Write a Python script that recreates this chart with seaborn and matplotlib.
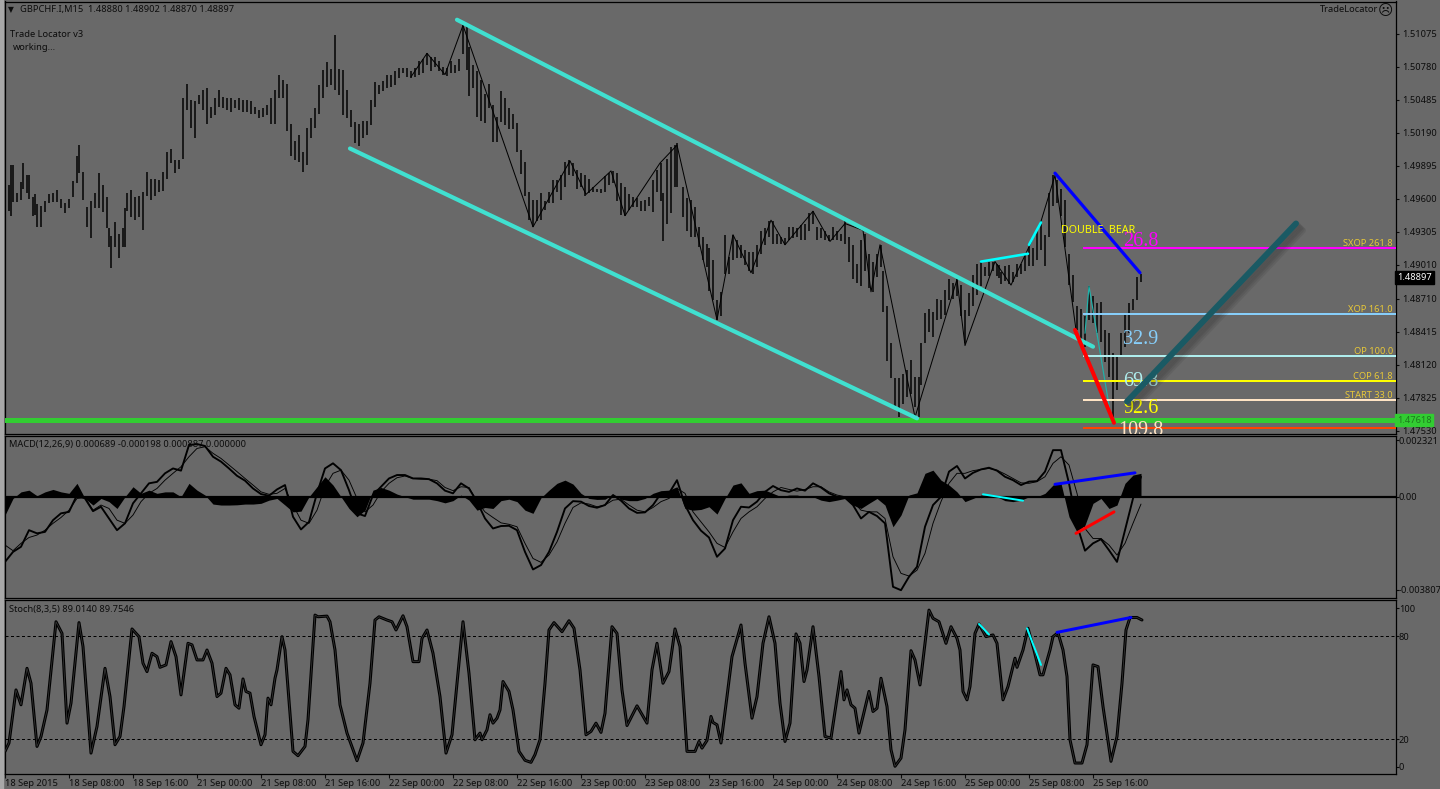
# -*- coding: utf-8 -*-
import matplotlib
matplotlib.use('Agg')
import matplotlib.pyplot as plt
from matplotlib.patches import Rectangle
import matplotlib.patheffects as pe
import seaborn as sns

# ── Price bars (bar number, high, low) ───────────────────────────────────────
BAR_X = [0, 2, 3, 4, 6, 8, 9, 11, 12, 14, 15, 16, 18, 20, 22, 24, 26, 28, 30, 32, 34, 36, 37, 39, 41, 43, 45, 47, 49, 51,
         52, 53, 55, 57, 59, 60, 61, 63, 65, 67, 69, 71, 73, 75, 77, 79, 81, 83, 85, 87, 89, 91, 93, 95, 97, 99, 101,
         103, 105, 107, 109, 111, 113, 115, 117, 119, 121, 123, 125, 127, 129, 131, 133, 135, 137, 139, 141, 143, 145,
         147, 149, 151, 153, 155, 157, 159, 161, 163, 165, 167, 169, 171, 173, 175, 177,
         179, 181, 183, 185, 187, 189, 191, 193, 195, 197, 199, 201, 203, 205, 207, 209, 211, 213, 215, 217, 219, 221,
         223, 225, 227, 229, 231, 232, 234, 236, 238, 240, 242, 244, 246, 248, 250, 252, 254, 256, 258, 260, 262, 264,
         266, 268, 270, 272, 274, 276, 278, 280, 282, 284, 286, 288, 290, 292, 294, 296, 298, 300, 302, 304, 306, 308,
         310, 312, 314, 316, 318, 320, 322, 324, 326, 328, 329, 331, 333, 335, 336, 339, 341, 343, 345, 347, 349, 351, 352,
         354, 356, 358, 360, 362, 364, 366, 368, 370, 372, 374, 376, 378, 380, 382, 384, 386, 388, 390, 392, 394, 396,
         398, 400, 402, 404, 406, 408, 410, 412, 414, 416, 418, 420, 422, 424, 426, 428, 430, 432, 434, 436, 438, 439,
         441, 443, 445, 447, 449, 451, 453, 455, 457, 458, 460, 462, 464, 466, 468, 470, 472, 474, 476, 478, 480, 482,
         484, 486, 488, 490, 492, 494, 496, 497,
         498, 500, 502, 504, 506, 508, 510, 512, 514, 516, 518, 520, 522, 524, 526, 528, 530, 532, 534, 536, 538, 540,
         542, 544, 546, 548, 550, 552, 554, 556, 558, 560, 562, 564, 566, 568]
BAR_HIGH = [1.4966, 1.4972, 1.4990, 1.4990, 1.4965, 1.4975, 1.4992, 1.4981, 1.4981, 1.4962, 1.4964, 1.4955, 1.4954, 1.4958, 1.4964,
            1.4965, 1.4968, 1.4960, 1.4956, 1.4960, 1.4976, 1.4998, 1.5008, 1.4984, 1.4953, 1.4958, 1.4965, 1.4983, 1.4972, 1.4962,
            1.4934, 1.4927, 1.4939, 1.4929, 1.4934, 1.4952, 1.4965, 1.4968, 1.4962, 1.4963, 1.4966, 1.4984, 1.4978, 1.4978, 1.4977,
            1.4984, 1.5002, 1.5005, 1.4995, 1.4995, 1.5050, 1.5063, 1.5048, 1.5047, 1.5053, 1.5057, 1.5059, 1.5042, 1.5050, 1.5057,
            1.5051, 1.5050, 1.5050, 1.5048, 1.5050, 1.5048, 1.5048, 1.5047, 1.5042, 1.5039, 1.5041, 1.5044, 1.5050, 1.5057, 1.5071,
            1.5066, 1.5063, 1.5027, 1.5012, 1.5017, 1.5002, 1.5023, 1.5032, 1.5041, 1.5062, 1.5075, 1.5082, 1.5076, 1.5106, 1.5076,
            1.5075, 1.5057, 1.5039, 1.5029, 1.5027,
            1.5030, 1.5030, 1.5048, 1.5064, 1.5062, 1.5065, 1.5071, 1.5071, 1.5074, 1.5077, 1.5077, 1.5077, 1.5074, 1.5077, 1.5083,
            1.5085, 1.5090, 1.5087, 1.5087, 1.5083, 1.5078, 1.5077, 1.5083, 1.5080, 1.5085, 1.5115, 1.5115, 1.5096, 1.5080, 1.5074,
            1.5066, 1.5054, 1.5063, 1.5044, 1.5033, 1.5056, 1.5050, 1.5041, 1.5036, 1.5028, 1.5004, 1.4993, 1.4966, 1.4959, 1.4959,
            1.4965, 1.4958, 1.4966, 1.4977, 1.4977, 1.4981, 1.4993, 1.4995, 1.4992, 1.4986, 1.4983, 1.4981, 1.4978, 1.4971, 1.4969,
            1.4969, 1.4980, 1.4983, 1.4985, 1.4983, 1.4974, 1.4971, 1.4964, 1.4962, 1.4961, 1.4958, 1.4959, 1.4962, 1.4977, 1.4986,
            1.4992, 1.4965, 1.4996, 1.5006, 1.5008, 1.5010, 1.4971, 1.4961, 1.4959, 1.4953, 1.4935, 1.4926, 1.4920, 1.4916,
            1.4905, 1.4870, 1.4877, 1.4928, 1.4908, 1.4928, 1.4923, 1.4919, 1.4914, 1.4913, 1.4913, 1.4919, 1.4931, 1.4934, 1.4940,
            1.4940, 1.4929, 1.4926, 1.4925, 1.4935, 1.4935, 1.4934, 1.4937, 1.4938, 1.4947, 1.4949, 1.4935, 1.4934, 1.4931, 1.4928,
            1.4935, 1.4931, 1.4929, 1.4940, 1.4926, 1.4919, 1.4902, 1.4923, 1.4929, 1.4911, 1.4904, 1.4911, 1.4919, 1.4896, 1.4864,
            1.4831, 1.4800, 1.4800, 1.4804, 1.4807, 1.4816, 1.4801, 1.4801, 1.4831, 1.4858, 1.4862, 1.4859, 1.4871, 1.4870, 1.4879,
            1.4888, 1.4885, 1.4888, 1.4883, 1.4861, 1.4876, 1.4892, 1.4902, 1.4904, 1.4899, 1.4904, 1.4904, 1.4902, 1.4901,
            1.4895, 1.4900, 1.4901, 1.4895, 1.4902, 1.4902, 1.4910, 1.4917, 1.4916, 1.4931, 1.4940, 1.4928, 1.4965, 1.4981, 1.4977,
            1.4969, 1.4959, 1.4911, 1.4892, 1.4864, 1.4862, 1.4855, 1.4882, 1.4873, 1.4867, 1.4868, 1.4843, 1.4840, 1.4822, 1.4819,
            1.4840, 1.4856, 1.4867, 1.4871, 1.4890, 1.4893]
BAR_LOW = [1.4952, 1.4949, 1.4945, 1.4957, 1.4957, 1.4959, 1.4969, 1.4965, 1.4960, 1.4945, 1.4946, 1.4935, 1.4935, 1.4948, 1.4956,
           1.4957, 1.4957, 1.4952, 1.4947, 1.4952, 1.4962, 1.4974, 1.4983, 1.4959, 1.4935, 1.4925, 1.4952, 1.4952, 1.4948, 1.4934,
           1.4917, 1.4898, 1.4917, 1.4907, 1.4917, 1.4917, 1.4949, 1.4944, 1.4941, 1.4944, 1.4932, 1.4963, 1.4959, 1.4963, 1.4966,
           1.4967, 1.4978, 1.4992, 1.4983, 1.4987, 1.4996, 1.5039, 1.5023, 1.5014, 1.5045, 1.5039, 1.5027, 1.5032, 1.5035, 1.5042,
           1.5041, 1.5039, 1.5038, 1.5041, 1.5039, 1.5038, 1.5038, 1.5036, 1.5036, 1.5032, 1.5033, 1.5035, 1.5027, 1.5027, 1.5050,
           1.5050, 1.5021, 1.4998, 1.4995, 1.4993, 1.4984, 1.4990, 1.5014, 1.5023, 1.5036, 1.5050, 1.5060, 1.5062, 1.5057, 1.5053,
           1.5035, 1.5032, 1.5024, 1.5010, 1.5007,
           1.5014, 1.5017, 1.5026, 1.5042, 1.5054, 1.5056, 1.5059, 1.5060, 1.5062, 1.5068, 1.5072, 1.5069, 1.5068, 1.5069, 1.5071,
           1.5072, 1.5080, 1.5074, 1.5078, 1.5074, 1.5071, 1.5070, 1.5072, 1.5072, 1.5074, 1.5089, 1.5075, 1.5052, 1.5059, 1.5033,
           1.5030, 1.5028, 1.5041, 1.5011, 1.5011, 1.5029, 1.5026, 1.5022, 1.5022, 1.5002, 1.4982, 1.4963, 1.4941, 1.4935, 1.4940,
           1.4941, 1.4950, 1.4956, 1.4956, 1.4966, 1.4959, 1.4971, 1.4981, 1.4980, 1.4969, 1.4971, 1.4963, 1.4965, 1.4966, 1.4966,
           1.4965, 1.4966, 1.4972, 1.4974, 1.4958, 1.4946, 1.4945, 1.4950, 1.4953, 1.4953, 1.4949, 1.4949, 1.4954, 1.4948, 1.4966,
           1.4958, 1.4922, 1.4938, 1.4947, 1.4971, 1.4971, 1.4944, 1.4931, 1.4926, 1.4926, 1.4917, 1.4905, 1.4899, 1.4878,
           1.4870, 1.4852, 1.4855, 1.4893, 1.4893, 1.4905, 1.4907, 1.4907, 1.4901, 1.4896, 1.4893, 1.4899, 1.4911, 1.4919, 1.4926,
           1.4920, 1.4920, 1.4920, 1.4919, 1.4923, 1.4925, 1.4926, 1.4923, 1.4923, 1.4931, 1.4938, 1.4923, 1.4925, 1.4923, 1.4922,
           1.4923, 1.4923, 1.4922, 1.4920, 1.4904, 1.4888, 1.4885, 1.4882, 1.4896, 1.4880, 1.4877, 1.4890, 1.4899, 1.4859, 1.4815,
           1.4800, 1.4774, 1.4765, 1.4777, 1.4783, 1.4786, 1.4774, 1.4765, 1.4794, 1.4831, 1.4841, 1.4837, 1.4852, 1.4853, 1.4856,
           1.4870, 1.4871, 1.4873, 1.4855, 1.4831, 1.4855, 1.4864, 1.4874, 1.4882, 1.4891, 1.4891, 1.4896, 1.4891, 1.4889,
           1.4884, 1.4887, 1.4884, 1.4886, 1.4890, 1.4893, 1.4896, 1.4900, 1.4900, 1.4905, 1.4914, 1.4900, 1.4926, 1.4954, 1.4956,
           1.4945, 1.4917, 1.4883, 1.4868, 1.4843, 1.4834, 1.4828, 1.4852, 1.4849, 1.4840, 1.4832, 1.4814, 1.4801, 1.4765, 1.4789,
           1.4819, 1.4828, 1.4840, 1.4861, 1.4870, 1.4886]

# thin zigzag over the bars
ZIG_X = [203, 211, 220, 229, 264, 282.5, 290.5, 303, 310, 327.5, 336, 356, 364, 373, 383, 390, 404, 412.5, 420, 429, 433, 437.5,
         455, 476, 480, 495, 503, 518, 525, 535.5]
ZIG_Y = [1.5069, 1.5090, 1.5071, 1.5115, 1.4935, 1.4994, 1.4964, 1.4985, 1.4945, 1.4992, 1.5008, 1.4852, 1.4928, 1.4894, 1.4941,
         1.4919, 1.4949, 1.4922, 1.4938, 1.4932, 1.4877, 1.4919, 1.4765, 1.4888, 1.4829, 1.4904, 1.4883, 1.4940, 1.4981, 1.4843]
TEAL_ZIG_X = [540, 542, 553]
TEAL_ZIG_Y = [1.4840, 1.4882, 1.4765]

# channel and pattern lines
CHANNEL_UP_X, CHANNEL_UP_Y = [226, 544], [1.5120, 1.4828]
CHANNEL_LOW_X, CHANNEL_LOW_Y = [172.5, 456], [1.5005, 1.4764]
BLUE_X, BLUE_Y = [525, 567.5], [1.4983, 1.4894]
RED_X, RED_Y = [535, 554.5], [1.4843, 1.4760]
CYAN_A_X, CYAN_A_Y = [488, 511.5], [1.4904, 1.4911]
CYAN_B_X, CYAN_B_Y = [512, 518], [1.4919, 1.4939]
ARROW_X, ARROW_Y = [561, 645.5], [1.4779, 1.4938]

LEVEL_NAMES = ['SXOP 261.8', 'XOP 161.0', 'OP 100.0', 'COP 61.8', 'START 33.0', '']
LEVEL_PRICES = [1.4916, 1.4857, 1.4820, 1.4797, 1.4780, 1.4755]
LEVEL_COLORS = ['#FF00FF', '#87CEFA', '#AFEEEE', '#FFFF00', '#FFE4C4', '#FF4500']
SCORE_TEXT = ['26.8', '32.9', '69.8', '92.6', '109.8']
SCORE_PRICE = [1.4922, 1.4834, 1.4797, 1.4773, 1.47535]
SCORE_COLOR = ['#FF00FF', '#87CEFA', '#AFEEEE', '#FFFF00', '#FFE4C4']
SUPPORT_PRICE = 1.47625
LAST_PRICE = 1.48897

PRICE_TICKS = [1.51075, 1.50780, 1.50485, 1.50190, 1.49895, 1.49600, 1.49305, 1.49010, 1.48710, 1.48415, 1.48120, 1.47825, 1.47530]

# ── MACD, in thousandths, one reading every 4th bar ──────────────────────────
MACD_HIST = [-.75, -.07, .2, .27, .04, .2, .3, .2, .14, .55, -.07, -.34, -.07, -.2, -.48, 0, .41, .14, .27, .14,
             .2, .2, 0, .55, .27, .07, -.3, -.34, -.34, -.33, -.3, -.3, -.27, -.14, -.07, -.34, -.62, -.59, 0, .41,
             .82, .48, 0, -.48, -.82, -.55, .27, .38, .27, .11, 0, -.1, -.1, -.1, -.16, -.25, -.16, .07, -.14, -.55,
             -.44, -.48, -.16, -.1, -.2, -.55, -.68, -.04, .27, .55, .68, .52, .14, -.07, -.11, -.1, .11, -.1, -.16, -.16,
             -.07, .14, .25, .27, .41, -.48, -.55, -.52, -.41, -.71, -.07, .48, .57, .14, .25, .27, .14, 0, .07, .07,
             0, 0, -.14, -.2, -.14, -.07, -.34, -.48, -.27, -.07, -.34, -1.23, -.75, .07, .16, .96, 1.09, .68, .48, .2,
             -.2, -.07, .07, .07, 0, -.16, -.2, -.14, 0, 0, .14, .48, .55, -.82, -1.44, -1.16, -.27, -.07, -.48, -.34,
             .55, .89, .96]
MACD_MAIN = [-2.67, -2.26, -2.05, -1.37, -1.5, -1.44, -.96, -.68, -.62, .07, -.07, -.59, -.41, -.89, -1.37, -1.09, -.27, .14, .55, .61,
             .96, 1.16, 1.07, 2.12, 2.16, 2.08, 1.64, 1.44, 1.16, .86, .66, .34, .11, .04, .3, .48, -.82, -1.34, -1.03, .14,
             1.16, 1.37, 1.09, .27, -.68, -.79, .07, .41, .75, .89, .89, .75, .75, .72, .55, .25, .14, .55, .34, -.2,
             -.89, -1.3, -1.2, -1.19, -1.37, -2.26, -2.98, -2.8, -2.26, -1.44, -.48, -.18, -.2, -.38, -.45, -.34, .07, -.16, -.48, -.66,
             -.64, -.34, .14, .14, .68, -.34, -.96, -1.39, -1.67, -2.46, -2.12, -.96, -.41, -.44, -.2, .2, .44, .27, .2, .34,
             .25, .55, .38, .14, 0, -.04, -.34, -.89, -.62, -.79, -1.09, -3.69, -3.83, -3.28, -2.87, -1.23, -.34, 0, 1.03, 1.26,
             .75, .98, 1.12, 1.19, 1.07, .82, .68, .48, .62, .64, 1.03, 1.91, 1.91, .55, -1.16, -2.21, -1.91, -1.74, -2.19, -2.67,
             -1.37, -.07, .82]
MACD_SIGNAL = [-1.98, -2.21, -1.91, -1.67, -1.57, -1.37, -1.09, -.85, -.55, -.07, -.04, -.55, -.34, -.48, -.96, -1.09, -.75, -.2, .14, .34,
               .68, .96, 1.23, 1.64, 1.98, 2.05, 1.78, 1.57, 1.3, 1.03, .75, .48, .2, .1, .14, .34, -.34, -.96, -1.09, -.55,
               .41, .96, 1.09, .68, -.07, -.62, -.34, .2, .55, .78, .85, .75, .72, .72, .66, .38, .25, .41, .38, -.2,
               -.62, -.85, -1.07, -1.13, -1.23, -1.91, -2.53, -2.69, -2.39, -1.85, -1.09, -.44, -.25, -.3, -.41, -.34, -.14, -.1, -.34, -.55,
               -.62, -.44, -.2, -.07, .34, .14, -.62, -1.03, -1.44, -1.91, -2.08, -1.44, -.89, -.62, -.41, -.07, .2, .38, .3, .23,
               .3, .41, .41, .2, .07, 0, -.2, -.55, -.62, -.62, -.89, -2.46, -3.14, -3.25, -3.01, -2.32, -1.09, -.2, .55, .96,
               .96, 1.07, 1.12, 1.16, 1.09, .93, .75, .57, .55, .62, .82, 1.37, 1.64, 1.3, .14, -1.3, -1.71, -1.71, -1.98, -2.39,
               -1.91, -1.09, -.3]
MACD_BARS = list(range(0, 569, 4))
MACD_CYAN_X, MACD_CYAN_Y = [489, 509], [.1, -.16]
MACD_BLUE_X, MACD_BLUE_Y = [525, 565], [.51, .98]
MACD_RED_X, MACD_RED_Y = [535.5, 554.5], [-1.5, -.62]

# ── Stochastic turning points ────────────────────────────────────────────────
STOCH_X = [0, 2, 5.5, 8, 11, 13, 16, 18, 21, 25.5, 28.5, 31, 33, 37, 39, 43, 46, 50, 52.5, 55, 57.5, 59.5, 63.5, 67, 69, 71, 73.5,
           76, 77.5, 80.5, 83, 85.5, 88, 91.5, 93.5, 96, 99, 101, 103.5, 106, 108, 110.5, 112.5, 115, 117, 119, 120.5, 122.5,
           124.5, 128, 130, 131.5, 133, 135, 136, 138.5, 140, 144, 146.5, 150, 151.5, 155, 156.5, 161, 162.5, 165, 167.5, 171,
           176, 179, 182.5, 185, 187, 191, 193.5, 195.5, 199, 201, 204, 207, 208.5, 211, 214, 217.5, 220.5, 223.5, 229, 232, 235, 237.5,
           238.5, 241, 242.5, 244, 246, 247.5, 249, 252, 254, 257, 260, 263, 265, 267.5, 270, 272, 274.5, 278.5, 282, 284.5, 287.5,
           290.5, 293, 295.5, 298, 300, 303.5, 306, 308.5, 311, 316, 321, 323.5, 326, 329, 332, 335, 337.5, 341, 345, 347, 348.5,
           351, 353, 354, 356, 358, 361, 363.5, 368, 370, 373.5, 376, 379, 382, 385, 387.5, 390, 392.5, 395.5, 397.5, 399.5, 401,
           404, 407, 410, 413, 418, 419.5, 421, 423, 425, 427, 432, 434, 436, 438, 441, 443, 445, 448, 450, 453, 455, 457.5, 462,
           464, 467, 470.5, 473, 476, 477.5, 479, 481, 482.5, 485, 487, 490.5, 494, 496, 499, 501.5, 505, 506, 509, 511.5, 514.5,
           517.5, 519, 522.5, 524, 526.5, 529, 531, 532.5, 535, 538.5, 541, 544, 546.5, 549, 553, 556, 558.5, 560.5, 562.5, 566, 568.5]
STOCH_Y = [12.8, 17.7, 48.7, 40, 61.3, 52.6, 15.7, 21.5, 37, 88.5, 81.7, 29.3, 41, 88, 74, 11.8, 27.4, 61.3, 44.8, 16.7, 21.5, 39, 84.3, 79.8, 64.3, 59.4, 70.1,
           68.1, 61.9, 63.3, 76.9, 68.1, 45.8, 75.9, 75, 66.2, 66.2, 72, 64.3, 44.8, 46.8, 61.3, 57.5, 40, 38, 55.1, 47.8, 46.8,
           33.2, 16.7, 22.5, 43.9, 40, 55.5, 60.4, 79.8, 72, 12.8, 10.3, 15.7, 31.3, 92.4, 91.4, 91.8, 88.5, 72, 40, 23.5,
           7.4, 17.7, 52.6, 89.5, 91.4, 89.5, 88.5, 83.7, 92, 85.6, 65.2, 65.2, 78.8, 83.7, 70.1, 44.8, 11.8, 22.5, 88.5, 58.4, 19.6, 23.5,
           19.6, 25.4, 34.2, 29.3, 32.2, 37, 53.6, 47.8, 37, 12.8, 7.6, 6.4, 10.9, 19.6, 52.6, 83.7, 88, 82.7, 89.1, 84.7, 60.4,
           22.5, 24.5, 29.3, 23.9, 35.1, 85.6, 81.7, 48.7, 27.9, 39.4, 29.3, 60.4, 75.9, 52.6, 59.4, 84.3, 74, 12.8, 12.8, 18.6, 14.7,
           19.2, 33.2, 29.7, 28.3, 17.7, 44.8, 68.1, 86.6, 64.3, 32.2, 44.8, 75.9, 91.4, 75.9, 41, 18.6, 29.3, 81.4, 75.9, 53.6, 60.4,
           85.6, 56.5, 21.5, 20.6, 59.4, 42.9, 48.7, 40, 38, 23.5, 47.8, 36.1, 38, 55.5, 39, 13.8, 4.1, 8.9, 25.4, 71.6, 66.2, 51.6, 95.3,
           90.5, 88.5, 75.9, 85.6, 78.8, 72, 47.8, 42.9, 50.7, 81.7, 87.2, 79.8, 80.8, 75.9, 42.9, 50.7, 67.2, 61.9, 72, 84.7, 72,
           57.5, 57.5, 72, 79.8, 82.1, 72, 56.5, 19.6, 6, 6, 16.7, 63.3, 62.3, 39, 7, 21.5, 52.6, 83.7, 91, 91, 89.5]
STOCH_CYAN_A_X, STOCH_CYAN_A_Y = [487, 492], [87.2, 81]
STOCH_CYAN_B_X, STOCH_CYAN_B_Y = [511, 518], [84.7, 63.3]
STOCH_BLUE_X, STOCH_BLUE_Y = [526, 563], [82.3, 91]
STOCH_LEVELS = [80, 20]

TIME_LABELS = ['18 Sep 2015', '18 Sep 08:00', '18 Sep 16:00', '21 Sep 00:00', '21 Sep 08:00', '21 Sep 16:00',
               '22 Sep 00:00', '22 Sep 08:00', '22 Sep 16:00', '23 Sep 00:00', '23 Sep 08:00', '23 Sep 16:00',
               '24 Sep 00:00', '24 Sep 08:00', '24 Sep 16:00', '25 Sep 00:00', '25 Sep 08:00', '25 Sep 16:00']
TIME_BARS = list(range(0, 32 * len(TIME_LABELS), 32))

BG = '#696969'
W, H = 1440, 789
UI_FONT = 6.7

sns.set_theme(style='dark', rc={'figure.facecolor': BG, 'axes.facecolor': BG, 'axes.edgecolor': 'black',
                                'axes.linewidth': 0.9, 'text.color': '#0c0c0c',
                                'xtick.color': '#0c0c0c', 'ytick.color': '#0c0c0c'})
plt.rcParams['font.family'] = ['Noto Sans', 'DejaVu Sans']


def panel(fig, top, bottom, left=4.5, right=1395.5):
    return fig.add_axes([left / W, 1 - bottom / H, (right - left) / W, (bottom - top) / H])


def px_lw(n):
    return n * 0.72


def line(ax, xs, ys, color, width, z=5, **kw):
    sns.lineplot(x=xs, y=ys, ax=ax, color=color, linewidth=px_lw(width), sort=False,
                 estimator=None, errorbar=None, legend=False, zorder=z, **kw)


def style_panel(ax, pad=0.5):
    ax.set_xlim(-0.25, 695.25)
    ax.yaxis.tick_right()
    ax.set_xlabel('')
    ax.set_ylabel('')
    ax.set_xticks([])
    ax.grid(False)
    ax.tick_params(axis='y', length=2, width=0.8, pad=pad, labelsize=UI_FONT, right=True, left=False)
    for s in ax.spines.values():
        s.set_linewidth(0.9)


fig = plt.figure(figsize=(W / 100, H / 100), dpi=100, facecolor=BG)
fig.add_artist(Rectangle((0, 0), 3 / W, 1, transform=fig.transFigure, color='#a8a8a8', zorder=0))

# ── Price panel ──────────────────────────────────────────────────────────────
ax = panel(fig, 1.5, 434)
ax.vlines(BAR_X, BAR_LOW, BAR_HIGH, color='black', linewidth=px_lw(1.5), zorder=2)
line(ax, ZIG_X, ZIG_Y, 'black', 1.0, z=3)
line(ax, TEAL_ZIG_X, TEAL_ZIG_Y, '#20B2AA', 1.2, z=3)

for name, price, color in zip(LEVEL_NAMES, LEVEL_PRICES, LEVEL_COLORS):
    ax.hlines(price, 539, 695.25, color=color, linewidth=px_lw(2), zorder=4)
    if name:
        ax.annotate(name, (694, price), xytext=(0, 0), textcoords='offset points', ha='right', va='bottom',
                    fontsize=UI_FONT, color='#E8C838', zorder=6)
ax.axhline(SUPPORT_PRICE, color='#32CD32', linewidth=px_lw(5), zorder=4)

line(ax, CHANNEL_UP_X, CHANNEL_UP_Y, '#40E0D0', 4.2)
line(ax, CHANNEL_LOW_X, CHANNEL_LOW_Y, '#40E0D0', 4.2)
line(ax, CYAN_A_X, CYAN_A_Y, '#00FFFF', 2.6)
line(ax, CYAN_B_X, CYAN_B_Y, '#00FFFF', 2.6)
line(ax, BLUE_X, BLUE_Y, '#0000FF', 3.2, z=6)
line(ax, RED_X, RED_Y, '#FF0000', 4, z=6)

for txt, price, color in zip(SCORE_TEXT, SCORE_PRICE, SCORE_COLOR):
    ax.text(568, price, txt, color=color, family='Liberation Serif', fontsize=14.5, ha='center', va='center',
            zorder=7, clip_on=True)
ax.text(546.5, 1.4932, 'DOUBLE  BEAR', color='#FFFF00', fontsize=7.7, ha='center', va='center', zorder=7)

# trend arrow with its soft shadow
arrow_fx = [pe.SimpleLineShadow(offset=(o, -o), shadow_color='black', alpha=0.07) for o in (1, 2, 3, 4, 5)] + [pe.Normal()]
ax.plot(ARROW_X, ARROW_Y, color='#1A5A64', linewidth=px_lw(6), solid_capstyle='round', zorder=8, path_effects=arrow_fx)

ax.set_ylim(1.4750, 1.51363)
style_panel(ax, pad=2.5)
ax.set_yticks(PRICE_TICKS)
ax.set_yticklabels([f'{t:.5f}' for t in PRICE_TICKS])
tr = ax.get_yaxis_transform()
ax.text(1.0012, LAST_PRICE, '1.48897', transform=tr, color='white', fontsize=UI_FONT, va='center', ha='left', zorder=9,
        bbox=dict(facecolor='black', edgecolor='black', pad=1.5))
ax.text(1.0012, SUPPORT_PRICE, '1.47618', transform=tr, color='#1E7A1E', fontsize=UI_FONT, va='center', ha='left', zorder=9,
        bbox=dict(facecolor='#32CD32', edgecolor='#32CD32', pad=1.2))

# ── MACD panel ───────────────────────────────────────────────────────────────
ax2 = panel(fig, 436, 598)
ax2.fill_between(MACD_BARS, 0, MACD_HIST, color='black', linewidth=0, zorder=2)
ax2.axhline(0, color='black', linewidth=px_lw(2.2), zorder=2)
line(ax2, MACD_BARS, MACD_SIGNAL, 'black', 0.9, z=3)
line(ax2, MACD_BARS, MACD_MAIN, 'black', 1.9, z=3)
line(ax2, MACD_CYAN_X, MACD_CYAN_Y, '#00FFFF', 2)
line(ax2, MACD_BLUE_X, MACD_BLUE_Y, '#0000FF', 3)
line(ax2, MACD_RED_X, MACD_RED_Y, '#FF0000', 3)
ax2.set_ylim(-4.15, 2.49)
style_panel(ax2)
ax2.set_yticks([2.321, 0, -3.807])
ax2.set_yticklabels(['0.002321', '0.00', '-0.003807'])

# ── Stochastic panel ─────────────────────────────────────────────────────────
ax3 = panel(fig, 600, 774)
for lvl in STOCH_LEVELS:
    ax3.axhline(lvl, color='black', linewidth=px_lw(1), linestyle=(0, (3, 2.5)), zorder=2)
double = [pe.Stroke(linewidth=px_lw(3), foreground='black'), pe.Stroke(linewidth=px_lw(0.7), foreground='#3a3a3a')]
ax3.plot(STOCH_X, STOCH_Y, color='black', linewidth=px_lw(3), zorder=3, path_effects=double)
line(ax3, STOCH_CYAN_A_X, STOCH_CYAN_A_Y, '#00FFFF', 2)
line(ax3, STOCH_CYAN_B_X, STOCH_CYAN_B_Y, '#00FFFF', 2)
line(ax3, STOCH_BLUE_X, STOCH_BLUE_Y, '#0000FF', 3)
ax3.set_ylim(-0.4, 101.2)
style_panel(ax3)
ax3.set_yticks([96.5, 80, 20, 3.7])
ax3.set_yticklabels(['100', '80', '20', '0'])
ax3.set_xticks(TIME_BARS)
ax3.set_xticklabels(TIME_LABELS, ha='left')
ax3.tick_params(axis='x', length=3, width=0.8, pad=0.5, labelsize=UI_FONT, bottom=True)


# ── Text in the panels ───────────────────────────────────────────────────────
def label(x, y, txt, **kw):
    kw.setdefault('fontsize', UI_FONT)
    kw.setdefault('va', 'center')
    fig.text(x / W, 1 - y / H, txt, zorder=20, **kw)


label(8, 9.5, '▼', fontsize=5.5, family=['DejaVu Sans'])
label(20, 9.5, 'GBPCHF.I,M15  1.48880 1.48902 1.48870 1.48897')
label(10, 34.5, 'Trade Locator v3')
label(12.5, 47, 'working...')
label(1378, 10, 'TradeLocator', ha='right')
label(1385, 10, '☹', ha='center', fontsize=10.5, family=['DejaVu Sans'])
label(9, 444.5, 'MACD(12,26,9) 0.000689 -0.000198 0.000887 0.000000')
label(9, 609.5, 'Stoch(8,3,5) 89.0140 89.7546')

fig.savefig('out.png', dpi=100, facecolor=BG)
plt.close(fig)
